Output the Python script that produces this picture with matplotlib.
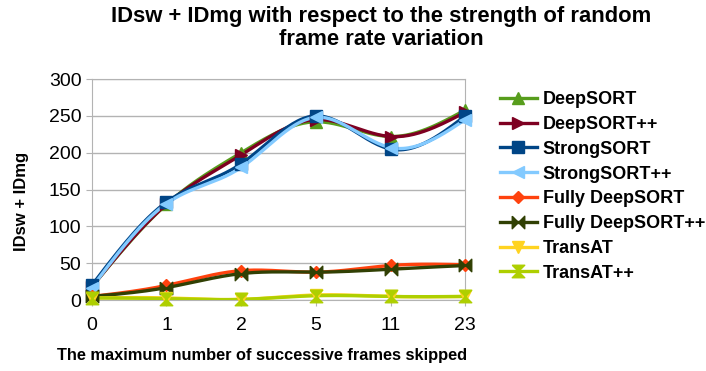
import numpy as np
import matplotlib.pyplot as plt
from matplotlib.lines import Line2D

plt.rcParams['font.family'] = ['Liberation Sans', 'DejaVu Sans']

# donnees
frames = ["0", "1", "2", "5", "11", "23"]
deepsort = [18, 130, 200, 242, 222, 258]
deepsort_pp = [18, 130, 197, 245, 222, 255]
strongsort = [20, 133, 185, 250, 205, 250]
strongsort_pp = [17, 131, 180, 248, 207, 245]
fully_deepsort = [5, 20, 40, 38, 47, 48]
fully_deepsort_pp = [5, 17, 36, 38, 42, 47]
transat = [3, 3, 1, 7, 5, 5]
transat_pp = [3, 2, 1, 6, 5, 5]

noms = ["DeepSORT", "DeepSORT++", "StrongSORT", "StrongSORT++",
        "Fully DeepSORT", "Fully DeepSORT++", "TransAT", "TransAT++"]
series = [deepsort, deepsort_pp, strongsort, strongsort_pp,
          fully_deepsort, fully_deepsort_pp, transat, transat_pp]
couleurs = ["#579D1C", "#7E0021", "#004586", "#83CAFF",
            "#FF420E", "#314004", "#FFD320", "#AECF00"]

bowtie_h = [(-1, 1), (1, -1), (1, 1), (-1, -1), (-1, 1)]
bowtie_v = [(-1, 1), (1, 1), (-1, -1), (1, -1), (-1, 1)]
marqueurs = ["^", ">", "s", "<", "D", bowtie_h, "v", bowtie_v]
tailles = [8, 8, 8, 8, 6, 9, 8, 9]


def spline(x, y, n=30):
    # spline cubique naturelle pour lisser la courbe (comme LibreOffice)
    x = np.asarray(x, float)
    y = np.asarray(y, float)
    k = len(x)
    h = np.diff(x)
    A = np.zeros((k, k))
    b = np.zeros(k)
    A[0, 0] = A[-1, -1] = 1
    for i in range(1, k - 1):
        A[i, i - 1] = h[i - 1]
        A[i, i] = 2 * (h[i - 1] + h[i])
        A[i, i + 1] = h[i]
        b[i] = 6 * ((y[i + 1] - y[i]) / h[i] - (y[i] - y[i - 1]) / h[i - 1])
    M = np.linalg.solve(A, b)
    xs, ys = [], []
    for i in range(k - 1):
        t = np.linspace(x[i], x[i + 1], n)
        a = x[i + 1] - t
        c = t - x[i]
        s = (M[i] * a**3 + M[i + 1] * c**3) / (6 * h[i]) \
            + (y[i] / h[i] - M[i] * h[i] / 6) * a \
            + (y[i + 1] / h[i] - M[i + 1] * h[i] / 6) * c
        xs.extend(t)
        ys.extend(s)
    return np.array(xs), np.array(ys)


fig = plt.figure(figsize=(7.06, 3.71), dpi=100)
ax = fig.add_axes([0.130, 0.191, 0.529, 0.596])

x = np.arange(len(frames))
handles = []
for nom, vals, col, m, ms in zip(noms, series, couleurs, marqueurs, tailles):
    xs, ys = spline(x, vals)
    ax.plot(xs, ys, color=col, lw=2.4, zorder=3)
    ax.plot(x, vals, ls="none", marker=m, ms=ms, color=col, mec=col, zorder=4, clip_on=False)
    handles.append(Line2D([], [], color=col, lw=2.4, marker=m, ms=ms, mec=col))

ax.set_xlim(0, len(frames) - 1)
ax.set_ylim(0, 300)
ax.set_yticks(range(0, 301, 50))
ax.set_xticks(x)
ax.set_xticklabels(frames)
ax.tick_params(labelsize=14, color="#b3b3b3", length=4)
ax.tick_params(axis="x", pad=8)
ax.yaxis.grid(True, color="#b3b3b3", lw=1)
ax.set_axisbelow(True)
for s in ax.spines.values():
    s.set_color("#b3b3b3")

ax.set_xlabel("The maximum number of successive frames skipped", fontsize=11.8,
              fontweight="bold")
ax.xaxis.set_label_coords(0.456, -0.215)
ax.set_ylabel("IDsw + IDmg", fontsize=12, fontweight="bold")
ax.yaxis.set_label_coords(-0.168, 0.448)
fig.suptitle("IDsw + IDmg with respect to the strength of random\nframe rate variation",
             fontsize=15.8, fontweight="bold", x=0.54, y=0.985, linespacing=1.15)

fig.legend(handles, noms, loc="upper left", bbox_to_anchor=(0.708, 0.754), frameon=False,
           borderpad=0, borderaxespad=0,
           prop={"weight": "bold", "size": 13}, handlelength=2.05, labelspacing=0.43,
           handletextpad=0.33)

plt.savefig("out.png", dpi=100)
